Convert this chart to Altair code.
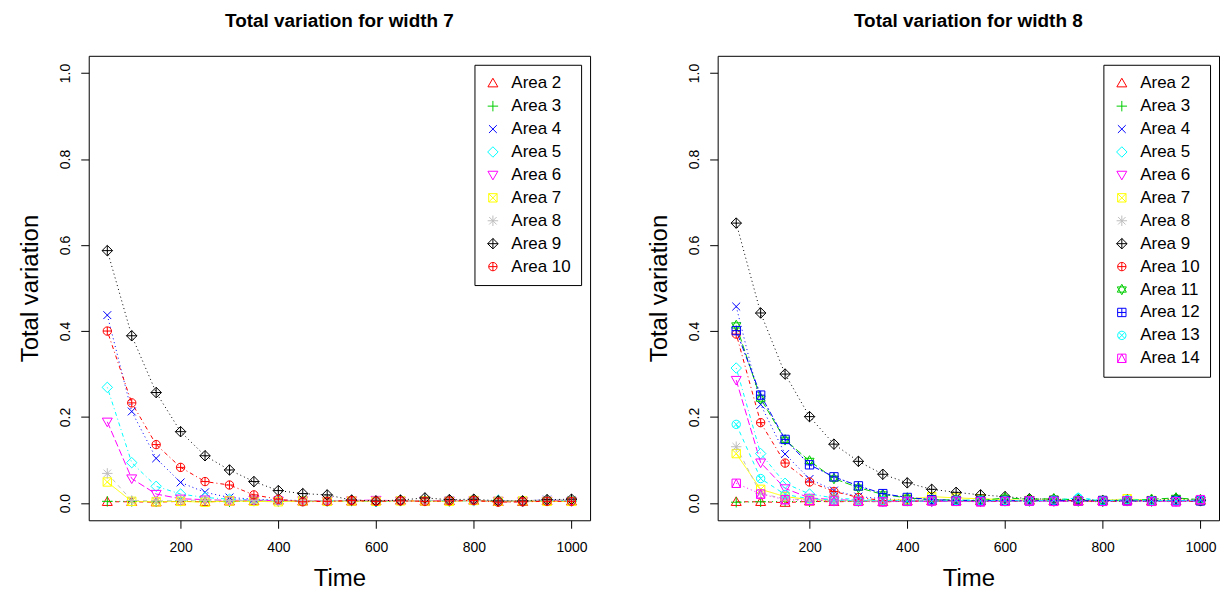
import altair as alt
import pandas as pd

times = [50, 100, 150, 200, 250, 300, 350, 400, 450, 500,
         550, 600, 650, 700, 750, 800, 850, 900, 950, 1000]

# ---- width 7 ----
w7_area2 = [0.003,0.003,0.002,0.004,0.003,0.004,0.005,0.006,0.004,0.005,0.004,0.005,0.006,0.004,0.005,0.006,0.003,0.003,0.005,0.004]
w7_area3 = [0.004,0.004,0.003,0.005,0.004,0.003,0.005,0.004,0.005,0.004,0.005,0.004,0.006,0.005,0.004,0.007,0.004,0.004,0.006,0.005]
w7_area4 = [0.437,0.213,0.104,0.048,0.025,0.013,0.009,0.007,0.006,0.005,0.006,0.005,0.006,0.005,0.006,0.006,0.004,0.005,0.008,0.006]
w7_area5 = [0.269,0.094,0.039,0.021,0.013,0.009,0.007,0.006,0.005,0.005,0.006,0.003,0.005,0.006,0.005,0.005,0.007,0.004,0.005,0.005]
w7_area6 = [0.189,0.057,0.021,0.010,0.008,0.006,0.007,0.005,0.006,0.005,0.006,0.007,0.005,0.006,0.005,0.006,0.005,0.004,0.005,0.004]
w7_area7 = [0.049,0.004,0.003,0.004,0.002,0.005,0.004,0.003,0.005,0.004,0.005,0.004,0.005,0.005,0.004,0.006,0.004,0.005,0.004,0.004]
w7_area8 = [0.069,0.006,0.005,0.006,0.007,0.006,0.006,0.005,0.006,0.005,0.007,0.006,0.005,0.006,0.007,0.006,0.006,0.005,0.007,0.008]
w7_area9 = [0.587,0.389,0.257,0.166,0.110,0.077,0.050,0.029,0.022,0.019,0.007,0.005,0.007,0.012,0.008,0.009,0.005,0.005,0.008,0.009]
w7_area10 = [0.400,0.233,0.136,0.083,0.050,0.042,0.019,0.009,0.003,0.004,0.006,0.004,0.005,0.004,0.005,0.006,0.002,0.003,0.004,0.004]

# ---- width 8 ----
w8_area2 = [0.003,0.003,0.001,0.004,0.003,0.004,0.003,0.004,0.005,0.004,0.005,0.004,0.006,0.005,0.004,0.005,0.006,0.004,0.005,0.006]
w8_area3 = [0.002,0.003,0.004,0.003,0.005,0.004,0.004,0.005,0.004,0.006,0.003,0.005,0.004,0.005,0.004,0.003,0.005,0.004,0.006,0.005]
w8_area4 = [0.457,0.229,0.114,0.056,0.029,0.015,0.010,0.007,0.006,0.005,0.006,0.005,0.006,0.005,0.006,0.007,0.005,0.006,0.005,0.006]
w8_area5 = [0.314,0.115,0.046,0.021,0.012,0.008,0.006,0.006,0.005,0.006,0.007,0.005,0.006,0.005,0.012,0.006,0.007,0.005,0.006,0.005]
w8_area6 = [0.286,0.094,0.034,0.012,0.008,0.006,0.004,0.005,0.003,0.005,0.004,0.005,0.006,0.004,0.005,0.004,0.006,0.005,0.004,0.005]
w8_area7 = [0.115,0.032,0.015,0.008,0.006,0.005,0.006,0.009,0.015,0.012,0.010,0.008,0.006,0.007,0.005,0.006,0.010,0.006,0.007,0.006]
w8_area8 = [0.131,0.022,0.010,0.007,0.006,0.006,0.005,0.006,0.007,0.005,0.006,0.007,0.006,0.005,0.006,0.007,0.006,0.005,0.006,0.007]
w8_area9 = [0.651,0.442,0.300,0.201,0.137,0.097,0.067,0.047,0.032,0.025,0.019,0.015,0.010,0.009,0.008,0.006,0.007,0.006,0.010,0.007]
w8_area10 = [0.393,0.187,0.093,0.049,0.027,0.013,0.006,0.005,0.004,0.006,0.005,0.004,0.006,0.008,0.005,0.004,0.005,0.006,0.005,0.004]
w8_area11 = [0.413,0.243,0.147,0.098,0.057,0.036,0.020,0.012,0.008,0.007,0.006,0.012,0.009,0.010,0.007,0.005,0.006,0.009,0.012,0.008]
w8_area12 = [0.401,0.251,0.148,0.089,0.061,0.040,0.022,0.013,0.008,0.006,0.005,0.006,0.005,0.006,0.005,0.006,0.005,0.005,0.006,0.005]
w8_area13 = [0.183,0.057,0.020,0.010,0.007,0.005,0.006,0.005,0.004,0.006,0.005,0.006,0.005,0.007,0.012,0.005,0.008,0.006,0.005,0.007]
w8_area14 = [0.046,0.021,0.008,0.006,0.005,0.004,0.003,0.004,0.005,0.004,0.003,0.004,0.005,0.004,0.005,0.004,0.005,0.004,0.003,0.008]

w7_series = [w7_area2, w7_area3, w7_area4, w7_area5, w7_area6, w7_area7, w7_area8, w7_area9, w7_area10]
w8_series = [w8_area2, w8_area3, w8_area4, w8_area5, w8_area6, w8_area7, w8_area8, w8_area9, w8_area10,
             w8_area11, w8_area12, w8_area13, w8_area14]

area_numbers = list(range(2, 15))
area_labels = ["Area %d" % k for k in area_numbers]

# R palette colours (col = area number, recycled)
area_colors = ["#FF0000", "#00CD00", "#0000FF", "#00FFFF", "#FF00FF", "#FFFF00", "#BEBEBE",
               "#000000", "#FF0000", "#00CD00", "#0000FF", "#00FFFF", "#FF00FF"]

# line types
dashed, dotted, dotdash, longdash, twodash, solid = [4, 4], [1, 3], [1, 3, 4, 3], [7, 3], [2, 2, 6, 2], [1, 0]
area_dashes = [dashed, dotted, dotted, dotdash, longdash, solid, dashed, dotted, dotdash, longdash, twodash, dashed, dotted]

# R pch 2..14 as SVG paths in the [-1,1] box
circ = "M-0.8,0A0.8,0.8,0,1,0,0.8,0A0.8,0.8,0,1,0,-0.8,0Z"
sq = "M-0.8,-0.8L0.8,-0.8L0.8,0.8L-0.8,0.8Z"
area_shapes = [
    "M0,-0.95L0.95,0.7L-0.95,0.7Z",                                   # 2 triangle up
    "M-1,0L1,0M0,-1L0,1",                                              # 3 plus
    "M-0.75,-0.75L0.75,0.75M-0.75,0.75L0.75,-0.75",                    # 4 x
    "M0,-1L1,0L0,1L-1,0Z",                                             # 5 diamond
    "M0,0.95L0.95,-0.7L-0.95,-0.7Z",                                   # 6 triangle down
    sq + "M-0.8,-0.8L0.8,0.8M-0.8,0.8L0.8,-0.8",                       # 7 square x
    "M-1,0L1,0M0,-1L0,1M-0.72,-0.72L0.72,0.72M-0.72,0.72L0.72,-0.72",  # 8 asterisk
    "M0,-1L1,0L0,1L-1,0ZM-1,0L1,0M0,-1L0,1",                           # 9 diamond plus
    circ + "M-0.8,0L0.8,0M0,-0.8L0,0.8",                               # 10 circle plus
    "M0,-1L0.87,0.5L-0.87,0.5ZM0,1L0.87,-0.5L-0.87,-0.5Z",             # 11 star of David
    sq + "M-0.8,0L0.8,0M0,-0.8L0,0.8",                                 # 12 square plus
    circ + "M-0.57,-0.57L0.57,0.57M-0.57,0.57L0.57,-0.57",             # 13 circle x
    sq + "M0,-0.8L0.8,0.8L-0.8,0.8Z",                                  # 14 square triangle
]

x_ticks = [200, 400, 600, 800, 1000]
y_ticks = [0.0, 0.2, 0.4, 0.6, 0.8, 1.0]


def make_panel(series, title):
    n = len(series)
    labels = area_labels[:n]
    rows = []
    for i, vals in enumerate(series):
        for t, v in zip(times, vals):
            rows.append({"Time": t, "value": v, "area": labels[i], "ord": i})
    df = pd.DataFrame(rows)

    x = alt.X("Time:Q", title="Time",
              scale=alt.Scale(domain=[12, 1038], nice=False, zero=False),
              axis=alt.Axis(values=x_ticks, format="d"))
    y = alt.Y("value:Q", title="Total variation",
              scale=alt.Scale(domain=[-0.04, 1.04], nice=False, zero=False),
              axis=alt.Axis(values=y_ticks, format=".1f", labelAngle=270))
    color = alt.Color("area:N", sort=labels,
                      scale=alt.Scale(domain=labels, range=area_colors[:n]),
                      legend=alt.Legend(title=None, orient="top-right", offset=9,
                                        strokeColor="black", fillColor="white",
                                        padding=10, labelFontSize=17, labelOffset=10,
                                        symbolSize=110, symbolStrokeWidth=1,
                                        rowPadding=5, labelFont="Liberation Sans",
                                        labelColor="black"))
    shape = alt.Shape("area:N", sort=labels,
                      scale=alt.Scale(domain=labels, range=area_shapes[:n]),
                      legend=alt.Legend(title=None, orient="top-right", offset=9))

    base = alt.Chart(df)
    line_layers = []
    for i, lab in enumerate(labels):
        line_layers.append(
            base.transform_filter(alt.datum.area == lab).mark_line(
                strokeWidth=1, color=area_colors[i], strokeDash=area_dashes[i]
            ).encode(x=x, y=y, order="Time:Q")
        )
    points = base.mark_point(filled=False, strokeWidth=1, size=110, opacity=1).encode(
        x=x, y=y, color=color, shape=shape, order="ord:Q")
    return alt.layer(*line_layers, points).properties(
        width=503, height=466,
        title=alt.TitleParams(title, fontSize=19, fontWeight="bold", font="Liberation Sans",
                              anchor="middle", offset=25, color="black"))


left = make_panel(w7_series, "Total variation for width 7")
right = make_panel(w8_series, "Total variation for width 8")

chart = alt.hconcat(left, right, spacing=56).resolve_scale(
    color="independent", shape="independent"
).resolve_legend(color="independent", shape="independent").properties(
    padding={"left": 10, "top": 2, "right": 0, "bottom": 0}
).configure_view(stroke="black", strokeWidth=1).configure_axis(
    grid=False, domain=False, ticks=True, tickSize=8, tickColor="black", tickWidth=1,
    labelFont="Liberation Sans", labelFontSize=14, labelColor="black", labelPadding=8,
    titleFont="Liberation Sans", titleFontSize=24, titleFontWeight="normal", titleColor="black"
).configure_axisY(titlePadding=16).configure_axisX(titlePadding=12, labelPadding=12)

chart.save("out.html", embed_options={"renderer": "svg", "actions": False})
